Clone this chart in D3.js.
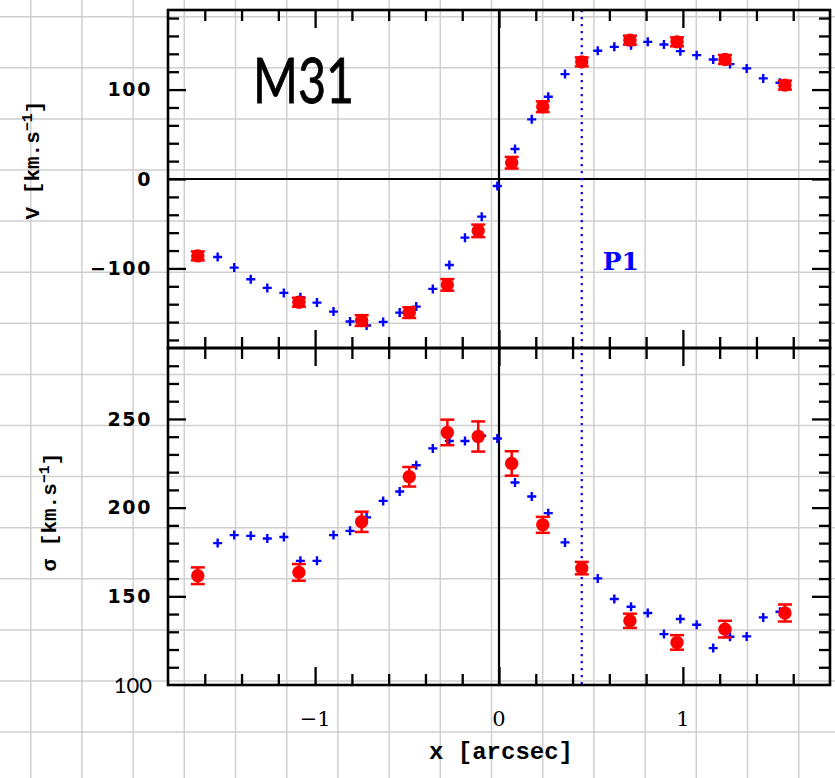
<!DOCTYPE html>
<html>
<head>
<meta charset="utf-8">
<script src="https://cdn.jsdelivr.net/npm/d3@7"></script>
<style>
  html, body { margin: 0; padding: 0; background: #fff; }
  svg { display: block; }
</style>
</head>
<body>
<svg id="chart" width="835" height="778"></svg>
<script>
// ---------------- data ----------------
const xModel = [-1.53,-1.44,-1.35,-1.26,-1.17,-1.08,-0.99,-0.90,-0.81,-0.72,-0.63,-0.54,-0.45,-0.36,-0.27,-0.185,-0.094,-0.009,
                0.087,0.178,0.268,0.359,0.537,0.627,0.718,0.809,0.897,0.986,1.075,1.165,1.256,1.347,1.437,1.528];
const vModel = [-87.2,-99.1,-112.1,-121.8,-127.4,-132.2,-138.2,-148.3,-159.4,-163.9,-159.8,-149.4,-142.7,-122.9,-96.1,-65.6,-42.1,-7.8,
                33.5,66.7,92,117.3,143.4,147.8,149.7,153.4,150.5,143,138.5,133.7,128.5,123.7,112.5,107.6];
const sModel = [180,184.5,184.1,182.6,183.4,170,170,184.5,186.9,194.5,203.8,209.1,223.9,233.4,237.6,237.6,240.5,239,
                214.2,206.3,196.9,180.4,160.1,148.5,144.1,140.6,128.7,137.2,134,120.8,127.2,127.4,138.1,141.3];

const xObs = [-1.638,-1.088,-0.747,-0.488,-0.281,-0.113,0.069,0.238,0.450,0.712,0.968,1.229,1.555];
const vObs = [-86,-137.8,-158.3,-149.4,-118.4,-58,18.2,80.8,131,155.3,153.4,133.7,105];
const vErr = [5,5,6,6,6.5,7,6.5,6,5,5,5,5,5];
const sObs = [161.6,163.5,192,217.4,242.4,240.1,224.9,190.3,165.9,136.2,124,131.5,140.6];
const sErr = [4.7,4.7,5.7,5.5,7.2,8.5,6.9,4.5,3.5,4,4.1,4.7,4.8];

const xTickLabels = [-1, 0, 1];
const vTickLabels = [-100, 0, 100];
const sTickLabels = [100, 150, 200, 250];
const p1Position = 0.45;
const title = "M31";

// ---------------- layout ----------------
const L = 168, R = 830, T = 10, M = 348, B = 685;
const svg = d3.select("#chart");

const x  = d3.scaleLinear().domain([-1.8, 1.8]).range([L, R]);
const yV = d3.scaleLinear().domain([-189, 189]).range([M, T]);
const yS = d3.scaleLinear().domain([100, 290]).range([B, M]);

const RED = "#ff0000", BLUE = "#0000ff";

// background grid paper
const grid = svg.append("g").attr("stroke", "#cfcfcf").attr("stroke-width", 1.5);
d3.range(0, 17).forEach(k => {
  const gx = 30.7 + 51.2 * k;
  grid.append("line").attr("x1", gx).attr("x2", gx).attr("y1", 0).attr("y2", 778);
});
d3.range(0, 16).forEach(k => {
  const gy = 16.7 + 51.1 * k;
  grid.append("line").attr("x1", 0).attr("x2", 835).attr("y1", gy).attr("y2", gy);
});

// ---------------- ticks ----------------
const xMinor = d3.range(-1.8, 1.81, 0.2).map(v => +v.toFixed(2)).filter(v => !xTickLabels.includes(v) && v > -1.8 && v < 1.8);
const vMinor = d3.range(-180, 181, 20).filter(v => v % 100 !== 0);
const sMinor = d3.range(110, 290, 10).filter(v => v % 50 !== 0);
const vMajor = [-100, 0, 100];
const sMajor = [150, 200, 250];

function drawTicks(g, axisFn, scale, values, size, tx, ty) {
  const a = axisFn(scale).tickValues(values).tickSize(size).tickFormat("");
  const sel = g.append("g").attr("transform", `translate(${tx},${ty})`).call(a);
  sel.select(".domain").remove();
  sel.selectAll("line").attr("stroke", "#000").attr("stroke-width", 2.3);
}
const tg = svg.append("g");
[[d3.axisBottom, T], [d3.axisTop, M], [d3.axisBottom, M], [d3.axisTop, B]].forEach(([fn, yy]) => {
  drawTicks(tg, fn, x, xMinor, 11, 0, yy);
  drawTicks(tg, fn, x, xTickLabels, 18, 0, yy);
});
drawTicks(tg, d3.axisRight, yV, vMinor, 11, L, 0);
drawTicks(tg, d3.axisRight, yV, vMajor, 18, L, 0);
drawTicks(tg, d3.axisLeft, yV, vMinor, 11, R, 0);
drawTicks(tg, d3.axisLeft, yV, vMajor, 18, R, 0);
drawTicks(tg, d3.axisRight, yS, sMinor, 11, L, 0);
drawTicks(tg, d3.axisRight, yS, sMajor, 18, L, 0);
drawTicks(tg, d3.axisLeft, yS, sMinor, 11, R, 0);
drawTicks(tg, d3.axisLeft, yS, sMajor, 18, R, 0);

// zero lines
svg.append("line").attr("x1", L).attr("x2", R).attr("y1", yV(0)).attr("y2", yV(0))
  .attr("stroke", "#000").attr("stroke-width", 2.2);
svg.append("line").attr("x1", x(0)).attr("x2", x(0)).attr("y1", T).attr("y2", B)
  .attr("stroke", "#000").attr("stroke-width", 2.2);

// P1 dotted line
svg.append("line").attr("x1", x(p1Position)).attr("x2", x(p1Position)).attr("y1", T).attr("y2", B)
  .attr("stroke", BLUE).attr("stroke-width", 2.2).attr("stroke-dasharray", "2.3,4.7");

// frames
svg.append("rect").attr("x", L).attr("y", T).attr("width", R - L).attr("height", M - T)
  .attr("fill", "none").attr("stroke", "#000").attr("stroke-width", 2.6);
svg.append("rect").attr("x", L).attr("y", M).attr("width", R - L).attr("height", B - M)
  .attr("fill", "none").attr("stroke", "#000").attr("stroke-width", 2.6);

// ---------------- marks ----------------
const plusPath = "M-4.5,0H4.5M0,-4.5V4.5";
function drawModel(ys, vals) {
  svg.append("g").selectAll("path").data(xModel).join("path")
    .attr("d", plusPath)
    .attr("transform", (d, i) => `translate(${x(d)},${ys(vals[i])})`)
    .attr("stroke", BLUE).attr("stroke-width", 2.4).attr("fill", "none");
}
function drawObs(ys, vals, errs) {
  const g = svg.append("g").attr("stroke", RED).attr("stroke-width", 2.5);
  xObs.forEach((d, i) => {
    const cx = x(d), lo = ys(vals[i] - errs[i]), hi = ys(vals[i] + errs[i]);
    g.append("line").attr("x1", cx).attr("x2", cx).attr("y1", lo).attr("y2", hi);
    g.append("line").attr("x1", cx - 7).attr("x2", cx + 7).attr("y1", lo).attr("y2", lo);
    g.append("line").attr("x1", cx - 7).attr("x2", cx + 7).attr("y1", hi).attr("y2", hi);
    g.append("circle").attr("cx", cx).attr("cy", ys(vals[i])).attr("r", 6.7).attr("fill", RED).attr("stroke", "none");
  });
}
drawModel(yV, vModel);
drawModel(yS, sModel);
drawObs(yV, vObs, vErr);
drawObs(yS, sObs, sErr);

// ---------------- labels ----------------
const numFont = "DejaVu Sans";
const fmt = d => (d < 0 ? "\u2212" : "") + Math.abs(d);
svg.append("g").selectAll("text").data(vTickLabels).join("text")
  .attr("x", 152).attr("y", d => yV(d)).attr("dy", "0.36em")
  .attr("text-anchor", "end").attr("font-family", numFont).attr("font-weight", "bold")
  .attr("font-size", 19).attr("letter-spacing", 1.6).text(fmt);
svg.append("g").selectAll("text").data(sTickLabels).join("text")
  .attr("x", 152).attr("y", d => yS(d)).attr("dy", "0.36em")
  .attr("text-anchor", "end")
  .attr("font-family", d => d === 100 ? "Lato" : numFont)
  .attr("font-weight", d => d === 100 ? "normal" : "bold")
  .attr("font-size", d => d === 100 ? 22 : 19)
  .attr("letter-spacing", d => d === 100 ? 0 : 1.6).text(fmt);
svg.append("g").selectAll("text").data(xTickLabels).join("text")
  .attr("x", d => x(d)).attr("y", 718).attr("dy", "0.36em")
  .attr("text-anchor", "middle").attr("font-family", "DejaVu Serif")
  .attr("font-size", 21).text(fmt);

// axis titles
const titleFont = "Liberation Mono";
svg.append("text").attr("x", 501).attr("y", 750).attr("dy", "0.36em")
  .attr("text-anchor", "middle").attr("font-family", titleFont).attr("font-weight", "bold")
  .attr("font-size", 24).text("x [arcsec]");

function yTitle(cx, cy, sym) {
  const t = svg.append("text").attr("transform", `translate(${cx},${cy}) rotate(-90)`)
    .attr("text-anchor", "middle").attr("dy", "0.36em")
    .attr("font-family", titleFont).attr("font-weight", "bold").attr("font-size", 21);
  t.append("tspan").text(sym + " [km.s");
  t.append("tspan").attr("dy", "-0.45em").attr("font-size", 15).text("\u22121");
  t.append("tspan").attr("dy", "0.45em").text("]");
}
yTitle(31, 160, "V");
yTitle(48, 512, "\u03c3");

// M31 title & P1
svg.append("text").attr("x", 253).attr("y", 103).attr("font-family", "Lato")
  .attr("font-size", 62).attr("textLength", 101).attr("lengthAdjust", "spacingAndGlyphs")
  .attr("stroke", "#000").attr("stroke-width", 0.8).text(title);
svg.append("text").attr("x", x(p1Position) + 21).attr("y", 270).attr("font-family", "DejaVu Serif")
  .attr("font-weight", "bold").attr("font-size", 25).attr("fill", BLUE).text("P1");
</script>
</body>
</html>
